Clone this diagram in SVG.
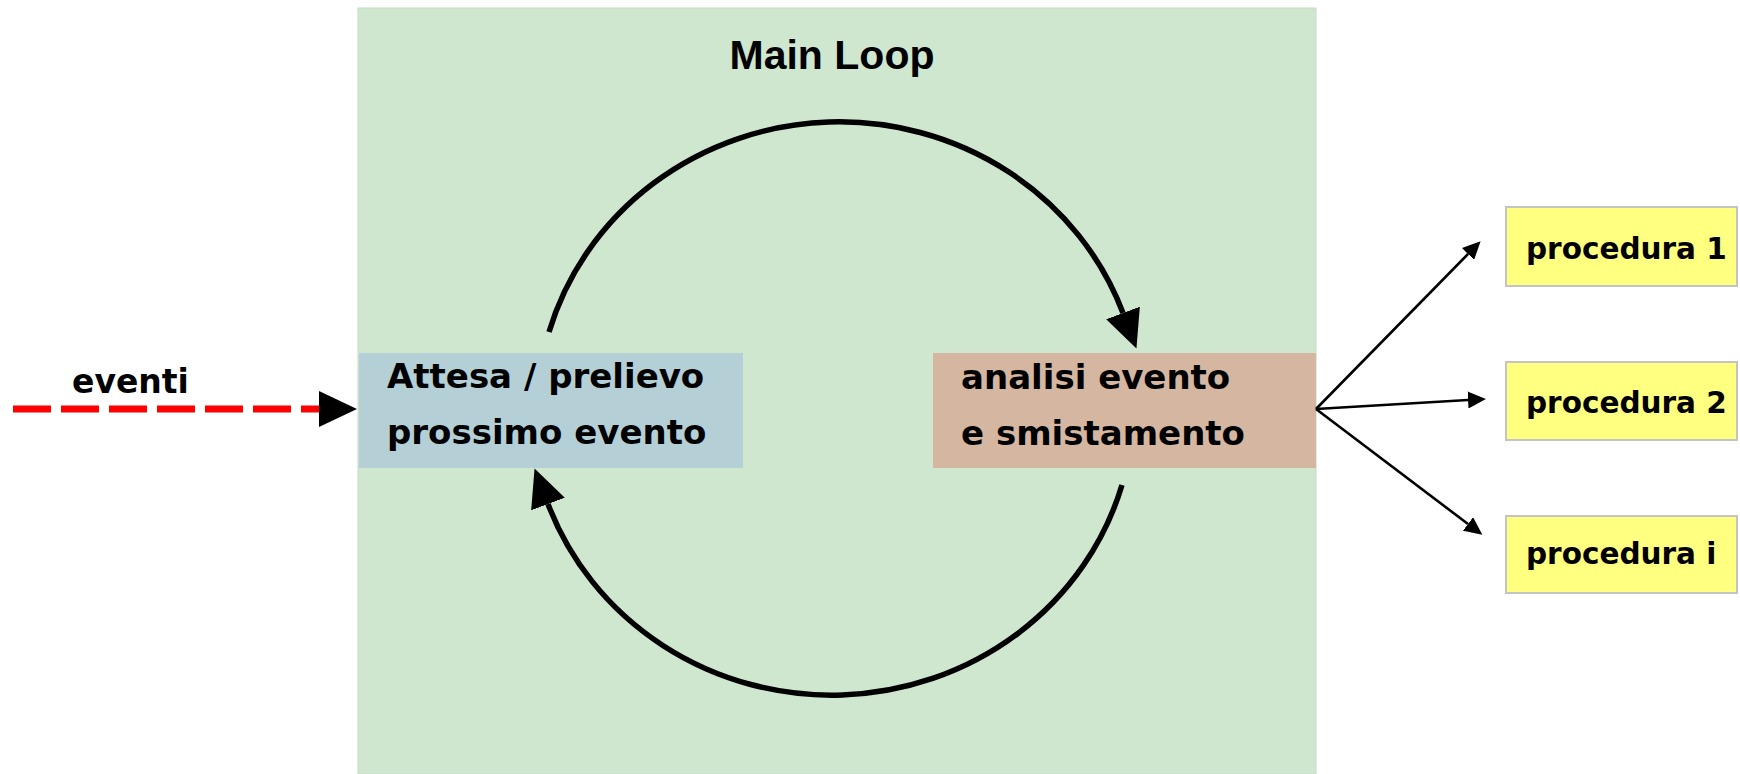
<svg xmlns="http://www.w3.org/2000/svg" width="1740" height="774" viewBox="0 0 1740 774">
  <style>
    .lbl { font-family: "DejaVu Sans", Verdana, sans-serif; font-weight: bold; fill: #000; }
    .big { font-size: 34px; }
    .proc { font-size: 29.5px; }
    .title { font-family: "Liberation Sans", Arial, sans-serif; font-weight: bold; font-size: 41px; fill: #000; }
    .loop { fill: none; stroke: #000; stroke-width: 5.5; }
    .thin { fill: none; stroke: #000; stroke-width: 2.6; }
    .procbox { fill: #ffff80; stroke: #c4c4c4; stroke-width: 2; }
  </style>
  <defs>
    <marker id="headBig" markerUnits="userSpaceOnUse" markerWidth="38" markerHeight="36" viewBox="0 0 38 36" refX="0" refY="18" orient="auto">
      <path d="M0,0 L38,18 L0,36 z" fill="#000"/>
    </marker>
    <marker id="headSmall" markerUnits="userSpaceOnUse" markerWidth="18" markerHeight="17" viewBox="0 0 18 17" refX="0" refY="8.5" orient="auto">
      <path d="M0,0 L18,8.5 L0,17 z" fill="#000"/>
    </marker>
  </defs>

  <rect width="1740" height="774" fill="#ffffff"/>

  <!-- main loop container -->
  <g id="main-loop">
    <rect x="358" y="8" width="958" height="766" fill="#cfe6cf" stroke="#c6dcc6" stroke-width="1"/>
    <text class="title" x="832" y="69" text-anchor="middle">Main Loop</text>
  </g>

  <g id="attesa">
    <rect x="359" y="353" width="384" height="115" fill="#b5cfd6"/>
    <text class="lbl big" x="387" y="388">Attesa / prelievo</text>
    <text class="lbl big" x="387" y="444">prossimo evento</text>
  </g>

  <g id="analisi">
    <rect x="933" y="353" width="383" height="115" fill="#d5b6a0"/>
    <text class="lbl big" x="961" y="389">analisi evento</text>
    <text class="lbl big" x="961" y="445">e smistamento</text>
  </g>

  <g id="procedura-1">
    <rect class="procbox" x="1506" y="207" width="231" height="79"/>
    <text class="lbl proc" x="1526" y="259">procedura 1</text>
  </g>
  <g id="procedura-2">
    <rect class="procbox" x="1506" y="362" width="231" height="78"/>
    <text class="lbl proc" x="1526" y="413">procedura 2</text>
  </g>
  <g id="procedura-i">
    <rect class="procbox" x="1506" y="516" width="231" height="77"/>
    <text class="lbl proc" x="1526" y="564">procedura i</text>
  </g>

  <g id="eventi-label">
    <text class="lbl" font-size="33" x="72" y="393">eventi</text>
  </g>

  <!-- connectors -->
  <g id="connectors">
    <!-- incoming events -->
    <line x1="13" y1="409" x2="319" y2="409" stroke="#ff0000" stroke-width="7" stroke-dasharray="38 10" marker-end="url(#headBig)"/>
    <!-- loop arcs -->
    <path class="loop" d="M549,332 A302,290.5 0 0 1 1123,313" marker-end="url(#headBig)"/>
    <path class="loop" d="M1122,485 A302,290.5 0 0 1 548,504" marker-end="url(#headBig)"/>
    <!-- dispatch to procedures -->
    <path class="thin" d="M1316,409 L1468,254" marker-end="url(#headSmall)"/>
    <path class="thin" d="M1316,409 L1468,400" marker-end="url(#headSmall)"/>
    <path class="thin" d="M1316,409 L1468,524" marker-end="url(#headSmall)"/>
  </g>
</svg>
